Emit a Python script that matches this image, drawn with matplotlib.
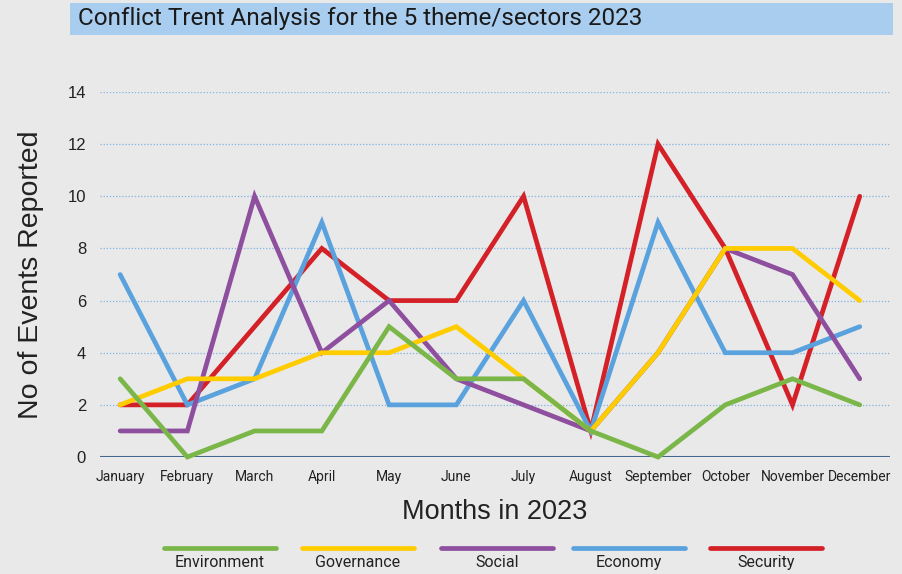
import matplotlib.pyplot as plt
from matplotlib.patches import Rectangle
from matplotlib.lines import Line2D

# Data
months = ["January", "February", "March", "April", "May", "June", "July",
          "August", "September", "October", "November", "December"]
environment = [3, 0, 1, 1, 5, 3, 3, 1, 0, 2, 3, 2]
governance = [2, 3, 3, 4, 4, 5, 3, 1, 4, 8, 8, 6]
social = [1, 1, 10, 4, 6, 3, 2, 1, 4, 8, 7, 3]
economy = [7, 2, 3, 9, 2, 2, 6, 1, 9, 4, 4, 5]
security = [2, 2, 5, 8, 6, 6, 10, 1, 12, 8, 2, 10]

names = ["Environment", "Governance", "Social", "Economy", "Security"]
series = [environment, governance, social, economy, security]
colors = ["#7ab648", "#ffcc00", "#8e4f9e", "#5aa2de", "#d42027"]

narrow = ["Liberation Sans Narrow", "Roboto", "DejaVu Sans"]
sans = ["Liberation Sans", "DejaVu Sans"]
bg = "#e9e9e9"

fig = plt.figure(figsize=(9.03, 5.74), dpi=100)
fig.patch.set_facecolor(bg)
ax = fig.add_axes([0.1107, 0.2038, 0.8749, 0.6359])
ax.set_facecolor(bg)

x = list(range(len(months)))
# drawn in reverse so Environment sits on top
for name, vals, c in reversed(list(zip(names, series, colors))):
    ax.plot(x, vals, color=c, lw=3.4, solid_capstyle="round",
            solid_joinstyle="miter", clip_on=False, zorder=3)

ax.set_xlim(-0.3, 11.45)
ax.set_ylim(0, 14)
ax.set_yticks(range(0, 15, 2))
ax.set_xticks(x)
ax.set_xticklabels(months, family=narrow, fontsize=10, color="#222222")
for lab in ax.get_yticklabels():
    lab.set_family(sans)
    lab.set_fontsize(12)
    lab.set_color("#222222")
ax.tick_params(axis="both", length=0)
ax.tick_params(axis="x", pad=9)
ax.tick_params(axis="y", pad=10)

# dotted grid, solid baseline
for v in range(2, 15, 2):
    ax.axhline(v, color="#7fb2e5", lw=0.9, ls=(0, (1, 1.5)), zorder=1)
ax.axhline(0, color="#44678f", lw=1.5, zorder=2)
for s in ax.spines.values():
    s.set_visible(False)

ax.set_ylabel("No of Events Reported", fontsize=20.5, color="#222222",
              family=sans, labelpad=17)
ax.set_xlabel("Months in 2023", fontsize=19.5, color="#222222",
              family=sans, labelpad=11)

# title banner
W, H = 903, 574
fig.patches.append(Rectangle((70 / W, 1 - 35 / H), 823 / W, 32 / H,
                             transform=fig.transFigure, facecolor="#a9cdef",
                             edgecolor="none"))
fig.text(78 / W, 1 - 19 / H, "Conflict Trent Analysis for the 5 theme/sectors 2023",
         family=narrow, fontsize=17.5, color="#1a1a1a", va="center", ha="left")

# legend: line above label
centers = [220, 358, 497, 629, 766]
for cx, name, c in zip(centers, names, colors):
    fig.lines.append(Line2D([(cx - 56) / W, (cx + 56) / W], [1 - 548 / H] * 2,
                            transform=fig.transFigure, color=c, lw=3.4,
                            solid_capstyle="round"))
    fig.text(cx / W, 1 - 567 / H, name, family=narrow, fontsize=11.5,
             color="#222222", ha="center", va="baseline")

fig.savefig("out.png", dpi=100, facecolor=bg)
